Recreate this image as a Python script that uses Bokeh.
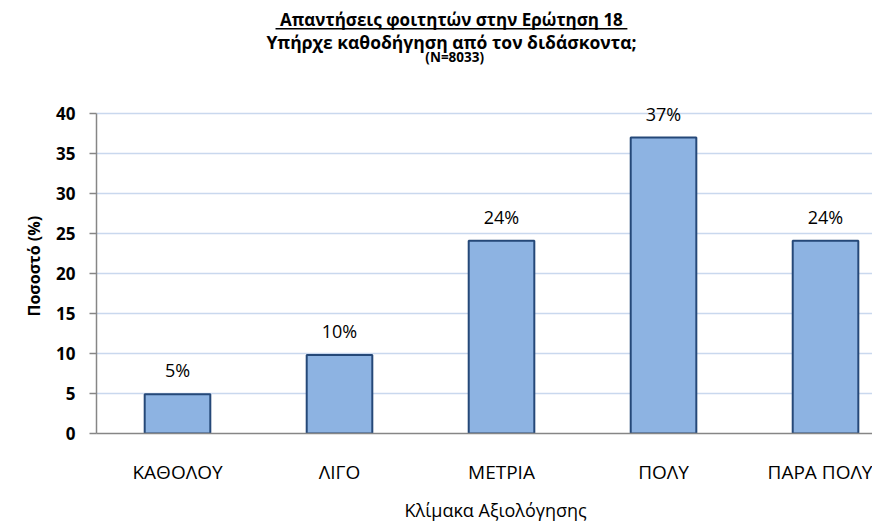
from bokeh.plotting import figure
from bokeh.models import (Range1d, FixedTicker, Label, LabelSet, ColumnDataSource,
                          BoxAnnotation, Title)
from bokeh.core.properties import value
from bokeh.embed import file_html
from bokeh.resources import INLINE

categories = ["ΚΑΘΟΛΟΥ", "ΛΙΓΟ", "ΜΕΤΡΙΑ", "ΠΟΛΥ", "ΠΑΡΑ ΠΟΛΥ"]
values = [4.9, 9.8, 24.1, 37.0, 24.1]
value_labels = ["5%", "10%", "24%", "37%", "24%"]
y_ticks = [0, 5, 10, 15, 20, 25, 30, 35, 40]

title1 = "Απαντήσεις φοιτητών στην Ερώτηση 18"
title2 = "Υπήρχε καθοδήγηση από τον διδάσκοντα;"
title3 = "(N=8033)"
x_title = "Κλίμακα Αξιολόγησης"
y_title = "Ποσοστό (%)"

FONT = "Open Sans"

xs = list(range(len(categories)))
src = ColumnDataSource(dict(x=xs, top=values, lab=value_labels))

p = figure(width=872, height=529, output_backend="svg", toolbar_location=None,
           x_range=Range1d(-0.5, 4.29), y_range=Range1d(0, 54.125),
           min_border_left=96, min_border_right=0, min_border_top=0,
           min_border_bottom=96)
p.outline_line_color = None
p.background_fill_color = "white"
p.border_fill_color = "white"

p.vbar(x="x", top="top", width=0.405, source=src, fill_color="#8DB3E2",
       line_color="#254878", line_width=2)

# axes
p.xaxis.ticker = FixedTicker(ticks=xs)
p.xaxis.major_label_overrides = {i: c for i, c in enumerate(categories)}
p.xaxis.major_tick_out = 0
p.xaxis.major_tick_in = 0
p.xaxis.minor_tick_line_color = None
p.xaxis.axis_line_color = "#868686"
p.xaxis.axis_line_width = 1.5
p.xaxis.major_label_text_font = FONT
p.xaxis.major_label_text_font_size = "19px"
p.xaxis.major_label_text_color = "#000000"
p.xaxis.major_label_standoff = 25

p.add_layout(Title(text=x_title, align="left", offset=308, standoff=16,
                   text_font=FONT, text_font_size="18px", text_font_style="normal",
                   text_color="#000000"), "below")

p.yaxis.ticker = FixedTicker(ticks=y_ticks)
p.yaxis.bounds = (0, 40)
p.yaxis.major_tick_out = 7
p.yaxis.major_tick_in = 0
p.yaxis.minor_tick_line_color = None
p.yaxis.axis_line_color = "#868686"
p.yaxis.axis_line_width = 1.5
p.yaxis.major_tick_line_color = "#868686"
p.yaxis.major_tick_line_width = 1.5
p.yaxis.major_label_text_font = FONT
p.yaxis.major_label_text_font_size = "17px"
p.yaxis.major_label_text_font_style = "bold"
p.yaxis.major_label_text_color = "#000000"
p.yaxis.major_label_standoff = 14

p.add_layout(Title(text=y_title, align="left", offset=117, standoff=14,
                   vertical_align="top",
                   text_font=FONT, text_font_size="16px", text_font_style="bold",
                   text_color="#000000"), "left")

p.xgrid.grid_line_color = None
p.ygrid.grid_line_color = "#C9D8EE"
p.ygrid.grid_line_width = 1.5

# value labels
p.add_layout(LabelSet(x="x", y="top", text="lab", source=src, text_align="center",
                      text_baseline="middle", y_offset=24, text_font=value(FONT),
                      text_font_size=value("18px"), text_color="#000000"))

# titles
tx = 1.691
p.add_layout(Label(x=tx, y=51.75, text=title1, text_align="center",
                   text_baseline="alphabetic", text_font=FONT, text_font_size="17px",
                   text_font_style="bold", text_color="#000000"))
p.add_layout(BoxAnnotation(left=tx - 1.086, right=tx + 1.086, bottom=50.5, top=50.69,
                           fill_color="#000000", fill_alpha=1.0, line_color=None))
p.add_layout(Label(x=tx, y=49.0, text=title2, text_align="center",
                   text_baseline="alphabetic", text_font=FONT, text_font_size="17.5px",
                   text_font_style="bold", text_color="#000000"))
p.add_layout(Label(x=tx + 0.02, y=47.1, text=title3, text_align="center",
                   text_baseline="alphabetic", text_font=FONT, text_font_size="13.5px",
                   text_font_style="bold", text_color="#000000"))

open("out.html", "w").write(file_html(p, INLINE))
